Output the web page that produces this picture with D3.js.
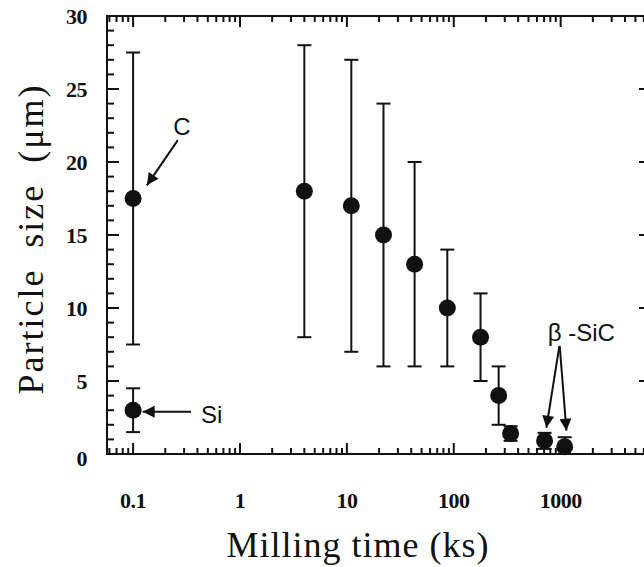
<!DOCTYPE html>
<html>
<head>
<meta charset="utf-8">
<script src="https://cdn.jsdelivr.net/npm/d3@7"></script>
<style>
  body { margin: 0; background: #fff; }
  svg { display: block; }
</style>
</head>
<body>
<svg id="chart"></svg>
<script>
// milling time (ks), particle size (um), error bar ends
const times   = [0.1, 0.1, 4, 11, 22, 43, 87, 178, 263, 340, 707, 1090];
const sizes   = [17.5, 3, 18, 17, 15, 13, 10, 8, 4, 1.4, 0.9, 0.5];
const errHigh = [27.5, 4.5, 28, 27, 24, 20, 14, 11, 6, 1.9, 1.45, 1.15];
const errLow  = [7.5, 1.5, 8, 7, 6, 6, 6, 5, 2, 0.9, 0.35, 0];

const xTicks = [0.1, 1, 10, 100, 1000];
const yTicks = [0, 5, 10, 15, 20, 25, 30];

// annotations in data units
const labels = [
  { text: 'C', x: 0.286, y: 22.4, anchor: 'middle' },
  { text: 'Si', x: 0.431, y: 2.7, anchor: 'start' },
  { text: 'β -SiC', x: 1560, y: 8.3, anchor: 'middle' }
];
const arrows = [
  { x1: 0.262, y1: 21.5, x2: 0.1345, y2: 18.4 },
  { x1: 0.348, y1: 2.9, x2: 0.123, y2: 2.9 },
  { x1: 973, y1: 7.4, x2: 735, y2: 1.8 },
  { x1: 980, y1: 7.4, x2: 1132, y2: 1.6 }
];

const width = 644, height = 567;
const svg = d3.select('#chart').attr('width', width).attr('height', height);

const x = d3.scaleLog().domain([0.057, 7000]).range([107, 651]);
const y = d3.scaleLinear().domain([0, 30]).range([454, 16]);

const minorX = [];
for (let e = -2; e <= 3; e++) {
  for (let m = 1; m <= 9; m++) {
    const v = m * Math.pow(10, e);
    if (v >= 0.057 && v <= 7000) minorX.push(v);
  }
}
const minorY = d3.range(0, 31, 1);

const ink = '#111';

// frame
svg.append('rect')
  .attr('x', x.range()[0]).attr('y', y(30))
  .attr('width', x.range()[1] - x.range()[0]).attr('height', y(0) - y(30))
  .attr('fill', 'none').attr('stroke', ink).attr('stroke-width', 2);

// x ticks (bottom & top, inward)
const isMajorX = v => Math.abs(Math.log10(v) - Math.round(Math.log10(v))) < 1e-9;
svg.append('g').selectAll('line.xb').data(minorX).join('line')
  .attr('x1', d => x(d)).attr('x2', d => x(d))
  .attr('y1', y(0)).attr('y2', d => y(0) - (isMajorX(d) ? 11 : 6))
  .attr('stroke', ink).attr('stroke-width', 2);
svg.append('g').selectAll('line.xt').data(minorX).join('line')
  .attr('x1', d => x(d)).attr('x2', d => x(d))
  .attr('y1', y(30)).attr('y2', d => y(30) + (isMajorX(d) ? 11 : 6))
  .attr('stroke', ink).attr('stroke-width', 2);

// y ticks (left minor+major, right major)
svg.append('g').selectAll('line').data(minorY).join('line')
  .attr('x1', x.range()[0]).attr('x2', d => x.range()[0] + (d % 5 === 0 ? 12 : 7))
  .attr('y1', d => y(d)).attr('y2', d => y(d))
  .attr('stroke', ink).attr('stroke-width', 2);
svg.append('g').selectAll('line').data(yTicks).join('line')
  .attr('x1', x.range()[1]).attr('x2', x.range()[1] - 12)
  .attr('y1', d => y(d)).attr('y2', d => y(d))
  .attr('stroke', ink).attr('stroke-width', 2);

// tick labels
svg.append('g').selectAll('text').data(yTicks).join('text')
  .attr('x', 87).attr('y', d => y(d) + (d === 0 ? 4 : 0))
  .attr('dy', '0.35em').attr('text-anchor', 'end')
  .style('font-family', '"Liberation Serif", serif').style('font-weight', 'bold')
  .style('font-size', '22px').style('letter-spacing', '-0.5px')
  .attr('fill', ink).text(d => d);
svg.append('g').selectAll('text').data(xTicks).join('text')
  .attr('x', d => x(d)).attr('y', 508)
  .attr('text-anchor', 'middle')
  .style('font-family', '"Liberation Serif", serif').style('font-weight', 'bold')
  .style('font-size', '22px').style('letter-spacing', '-0.5px')
  .attr('fill', ink).text(d => d);

// axis titles
svg.append('text')
  .attr('x', 358).attr('y', 557).attr('text-anchor', 'middle')
  .style('font-family', '"Liberation Serif", serif').style('font-size', '36px')
  .style('letter-spacing', '1px')
  .attr('fill', ink).text('Milling time (ks)');
svg.append('text')
  .attr('transform', 'translate(43,239) rotate(-90)')
  .attr('text-anchor', 'middle')
  .style('font-family', '"Liberation Serif", serif').style('font-size', '36px')
  .style('letter-spacing', '2px').style('word-spacing', '10px')
  .attr('fill', ink).text('Particle size (μm)');

// error bars
const pts = times.map((t, i) => ({ t, v: sizes[i], hi: errHigh[i], lo: errLow[i] }));
const eb = svg.append('g').attr('stroke', ink).attr('stroke-width', 2);
eb.selectAll('line.v').data(pts).join('line')
  .attr('x1', d => x(d.t)).attr('x2', d => x(d.t))
  .attr('y1', d => y(d.hi)).attr('y2', d => y(d.lo));
eb.selectAll('line.h').data(pts).join('line')
  .attr('x1', d => x(d.t) - 7).attr('x2', d => x(d.t) + 7)
  .attr('y1', d => y(d.hi)).attr('y2', d => y(d.hi));
eb.selectAll('line.l').data(pts.filter(d => d.lo > 0)).join('line')
  .attr('x1', d => x(d.t) - 7).attr('x2', d => x(d.t) + 7)
  .attr('y1', d => y(d.lo)).attr('y2', d => y(d.lo));

// markers
svg.append('g').selectAll('circle').data(pts).join('circle')
  .attr('cx', d => x(d.t)).attr('cy', d => y(d.v)).attr('r', 8.5)
  .attr('fill', ink);

// arrows
svg.append('defs').append('marker')
  .attr('id', 'head').attr('viewBox', '0 0 10 10')
  .attr('refX', 10).attr('refY', 5)
  .attr('markerWidth', 7).attr('markerHeight', 6)
  .attr('markerUnits', 'strokeWidth').attr('orient', 'auto')
  .append('path').attr('d', 'M0,0 L10,5 L0,10 Z').attr('fill', ink);
svg.append('g').selectAll('line').data(arrows).join('line')
  .attr('x1', d => x(d.x1)).attr('y1', d => y(d.y1))
  .attr('x2', d => x(d.x2)).attr('y2', d => y(d.y2))
  .attr('stroke', ink).attr('stroke-width', 2)
  .attr('marker-end', 'url(#head)');

svg.append('g').selectAll('text').data(labels).join('text')
  .attr('x', d => x(d.x)).attr('y', d => y(d.y))
  .attr('dy', '0.35em').attr('text-anchor', d => d.anchor)
  .style('font-family', '"Liberation Sans", sans-serif').style('font-size', '24px')
  .attr('fill', ink).text(d => d.text);
</script>
</body>
</html>
